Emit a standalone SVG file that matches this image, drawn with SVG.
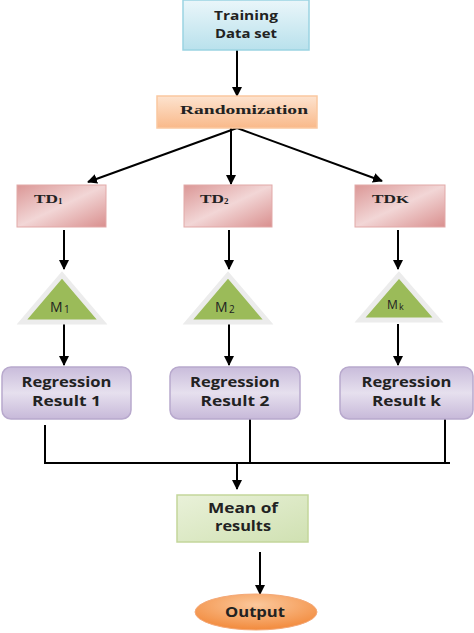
<svg xmlns="http://www.w3.org/2000/svg" width="474" height="633" viewBox="0 0 474 633">
<defs>
<linearGradient id="gBlue" x1="0" y1="0" x2="0" y2="1"><stop offset="0" stop-color="#eaf6fa"/><stop offset="1" stop-color="#b9e1ec"/></linearGradient>
<linearGradient id="gOrange" x1="0" y1="0" x2="0" y2="1"><stop offset="0" stop-color="#fde3cf"/><stop offset="1" stop-color="#f9b98a"/></linearGradient>
<linearGradient id="gPink" x1="0" y1="0" x2="1" y2="1"><stop offset="0" stop-color="#db9796"/><stop offset="0.5" stop-color="#f2d6d6"/><stop offset="1" stop-color="#d98f8e"/></linearGradient>
<linearGradient id="gPurple" x1="0" y1="0" x2="0" y2="1"><stop offset="0" stop-color="#c9bcdb"/><stop offset="0.5" stop-color="#e6e0ee"/><stop offset="1" stop-color="#c7b9d9"/></linearGradient>
<linearGradient id="gGreen" x1="0" y1="0" x2="1" y2="1"><stop offset="0" stop-color="#e9f1d9"/><stop offset="1" stop-color="#d0e1b2"/></linearGradient>
<radialGradient id="gOut" cx="0.5" cy="0.3" r="0.7"><stop offset="0" stop-color="#fbc89c"/><stop offset="1" stop-color="#f28a3c"/></radialGradient>
<marker id="ah" markerWidth="10" markerHeight="10" refX="9" refY="5" orient="auto" markerUnits="userSpaceOnUse"><path d="M0,0 L10,5 L0,10 Z" fill="#000"/></marker>
<style>
.ln{stroke:#000;stroke-width:2;fill:none}
.arr{stroke:#000;stroke-width:2;fill:none;marker-end:url(#ah)}
.sans{font-family:"Open Sans","Liberation Sans",sans-serif;font-weight:bold;fill:#222;text-anchor:middle}
.serif{font-family:"Liberation Serif","DejaVu Serif",serif;font-weight:bold;fill:#222;text-anchor:middle}
.m{font-family:"Open Sans","Liberation Sans",sans-serif;font-weight:normal;fill:#222}
.tri{fill:#9bbb59;stroke:#ececec;stroke-width:5;stroke-linejoin:miter}
</style>
</defs>

<g id="connectors">
<line class="arr" x1="237" y1="50" x2="237" y2="96"/>
<line class="arr" x1="237" y1="128" x2="88" y2="182"/>
<line class="arr" x1="231" y1="128" x2="231" y2="184"/>
<line class="arr" x1="237" y1="128" x2="382" y2="181"/>
<line class="arr" x1="64" y1="230" x2="64" y2="269"/>
<line class="arr" x1="229" y1="230" x2="229" y2="269"/>
<line class="arr" x1="398" y1="230" x2="398" y2="269"/>
<line class="arr" x1="64" y1="324" x2="64" y2="365"/>
<line class="arr" x1="229" y1="324" x2="229" y2="365"/>
<line class="arr" x1="398" y1="324" x2="398" y2="365"/>
<polyline class="ln" points="45,425 45,463 450,463"/>
<line class="ln" x1="250" y1="419" x2="250" y2="463"/>
<line class="ln" x1="445" y1="419" x2="445" y2="463"/>
<line class="arr" x1="237" y1="463" x2="237" y2="489"/>
<line class="arr" x1="260" y1="552" x2="260" y2="594"/>
</g>

<g id="training">
<rect x="183" y="0" width="126" height="50" fill="url(#gBlue)" stroke="#9bd3e2" stroke-width="1.5"/>
<text class="sans" x="246" y="20" font-size="13" textLength="64" lengthAdjust="spacingAndGlyphs">Training</text>
<text class="sans" x="246" y="38" font-size="13" textLength="62" lengthAdjust="spacingAndGlyphs">Data set</text>
</g>

<g id="randomization">
<rect x="157" y="96" width="160" height="32" fill="url(#gOrange)" stroke="#fac8a0" stroke-width="1.5"/>
<text class="serif" x="244" y="114" font-size="13" textLength="128" lengthAdjust="spacingAndGlyphs">Randomization</text>
</g>

<g id="td1">
<rect x="17" y="185" width="89" height="42" fill="url(#gPink)" stroke="#e2a9a8" stroke-width="1"/>
<text class="serif" x="34" y="203" font-size="13" style="text-anchor:start" textLength="24" lengthAdjust="spacingAndGlyphs">TD</text>
<text class="serif" x="58" y="204" font-size="9" style="text-anchor:start">1</text>
</g>
<g id="td2">
<rect x="184" y="185" width="88" height="42" fill="url(#gPink)" stroke="#e2a9a8" stroke-width="1"/>
<text class="serif" x="200" y="203" font-size="13" style="text-anchor:start" textLength="24" lengthAdjust="spacingAndGlyphs">TD</text>
<text class="serif" x="224" y="204" font-size="9" style="text-anchor:start">2</text>
</g>
<g id="tdk">
<rect x="355" y="185" width="90" height="42" fill="url(#gPink)" stroke="#e2a9a8" stroke-width="1"/>
<text class="serif" x="372" y="203" font-size="13" style="text-anchor:start" textLength="24" lengthAdjust="spacingAndGlyphs">TD</text>
<text class="serif" x="396" y="203" font-size="10" style="text-anchor:start" textLength="13" lengthAdjust="spacingAndGlyphs">K</text>
</g>

<g id="m1">
<polygon class="tri" points="62,275 22,322 102,322"/>
<text class="m" x="50" y="312" font-size="14">M</text>
<text class="m" x="64" y="313" font-size="10">1</text>
</g>
<g id="m2">
<polygon class="tri" points="228,275 188,322 268,322"/>
<text class="m" x="215" y="312" font-size="14">M</text>
<text class="m" x="229" y="313" font-size="10">2</text>
</g>
<g id="mk">
<polygon class="tri" points="399,275 360,320 438,320"/>
<text class="m" x="387" y="309" font-size="12">M</text>
<text class="m" x="399" y="310" font-size="9">k</text>
</g>

<g id="reg1">
<rect x="2" y="367" width="129" height="52" rx="9" fill="url(#gPurple)" stroke="#b8a9cd" stroke-width="1.5"/>
<text class="sans" x="66.5" y="387" font-size="14" textLength="90" lengthAdjust="spacingAndGlyphs">Regression</text>
<text class="sans" x="66.5" y="406" font-size="14" textLength="69" lengthAdjust="spacingAndGlyphs">Result 1</text>
</g>
<g id="reg2">
<rect x="170" y="367" width="130" height="52" rx="9" fill="url(#gPurple)" stroke="#b8a9cd" stroke-width="1.5"/>
<text class="sans" x="235" y="387" font-size="14" textLength="90" lengthAdjust="spacingAndGlyphs">Regression</text>
<text class="sans" x="235" y="406" font-size="14" textLength="69" lengthAdjust="spacingAndGlyphs">Result 2</text>
</g>
<g id="regk">
<rect x="340" y="367" width="133" height="52" rx="9" fill="url(#gPurple)" stroke="#b8a9cd" stroke-width="1.5"/>
<text class="sans" x="406.5" y="387" font-size="14" textLength="90" lengthAdjust="spacingAndGlyphs">Regression</text>
<text class="sans" x="406.5" y="406" font-size="14" textLength="69" lengthAdjust="spacingAndGlyphs">Result k</text>
</g>

<g id="mean">
<rect x="177" y="495" width="131" height="47" fill="url(#gGreen)" stroke="#c3d69b" stroke-width="1.5"/>
<text class="sans" x="243" y="513" font-size="14" textLength="70" lengthAdjust="spacingAndGlyphs">Mean of</text>
<text class="sans" x="243" y="531" font-size="14" textLength="56" lengthAdjust="spacingAndGlyphs">results</text>
</g>

<g id="output">
<ellipse cx="256" cy="612" rx="61" ry="18" fill="url(#gOut)" stroke="#f4a877" stroke-width="1"/>
<text class="sans" x="255" y="617" font-size="14" textLength="60" lengthAdjust="spacingAndGlyphs">Output</text>
</g>
</svg>
